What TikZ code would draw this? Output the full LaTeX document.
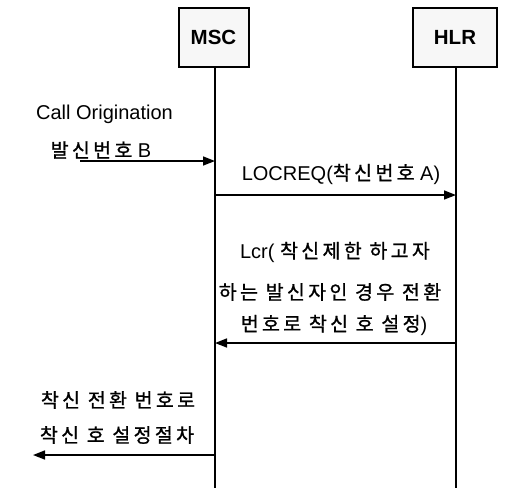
\documentclass[tikz,border=0pt]{standalone}
\usepackage{fontspec}
\setmainfont{Liberation Sans}
\newfontfamily\krfont[LetterSpace=17,FakeBold=1]{Noto Sans CJK KR}
\newcommand{\kor}[1]{{\krfont\fontsize{19.5}{23}\selectfont #1}}
\usetikzlibrary{arrows.meta}
\tikzset{
  entity/.style={draw=black, line width=2pt, fill=gray!6, font=\fontsize{20.5}{24}\selectfont\bfseries},
  life/.style={line width=1.5pt},
  msg/.style={line width=1.5pt, -{Triangle[length=12pt,width=9pt]}},
  lbl/.style={inner sep=0pt, font=\fontsize{20}{24}\selectfont}
}
\begin{document}
\begin{tikzpicture}[x=1pt,y=-1pt]
\useasboundingbox (0,0) rectangle (513,488);
% entities
\node[entity, minimum width=70pt, minimum height=59pt, inner sep=0pt] (msc) at (213.5,37) {MSC};
\node[entity, minimum width=84pt, minimum height=59pt, inner sep=0pt] (hlr) at (455,37) {HLR};
% lifeline ends
\coordinate (mscb) at (215,488);
\coordinate (hlrb) at (456,488);
\draw[life] (msc.south -| mscb) -- (mscb);
\draw[life] (hlr.south -| hlrb) -- (hlrb);
% message points
\coordinate (a1s) at (80,161);
\coordinate (a1e) at (215,161);
\coordinate (a2s) at (215,195);
\coordinate (a2e) at (456,195);
\coordinate (a3s) at (456,343);
\coordinate (a3e) at (215,343);
\coordinate (a4s) at (215,455);
\coordinate (a4e) at (33,455);
\draw[msg] (a1s) -- (a1e);
\draw[msg] (a2s) -- (a2e);
\draw[msg] (a3s) -- (a3e);
\draw[msg] (a4s) -- (a4e);
% labels
\node[lbl] (t1) at (104.5,114.5) {Call Origination};
\node[lbl] (t2) at (101,150) {\kor{발신번호} B};
\node[lbl] (t3) at (341,174) {LOCREQ(\kor{착신번호} A)};
\node[lbl] (t4) at (335,252) {Lcr( \kor{착신제한 하고자}};
\node[lbl] (t5) at (330,292) {\kor{하는 발신자인 경우 전환}};
\node[lbl] (t6) at (334,325) {\kor{번호로 착신 호 설정})};
\node[lbl] (t7) at (118,400) {\kor{착신 전환 번호로}};
\node[lbl] (t8) at (117,435) {\kor{착신 호 설정절차}};
\end{tikzpicture}
\end{document}
